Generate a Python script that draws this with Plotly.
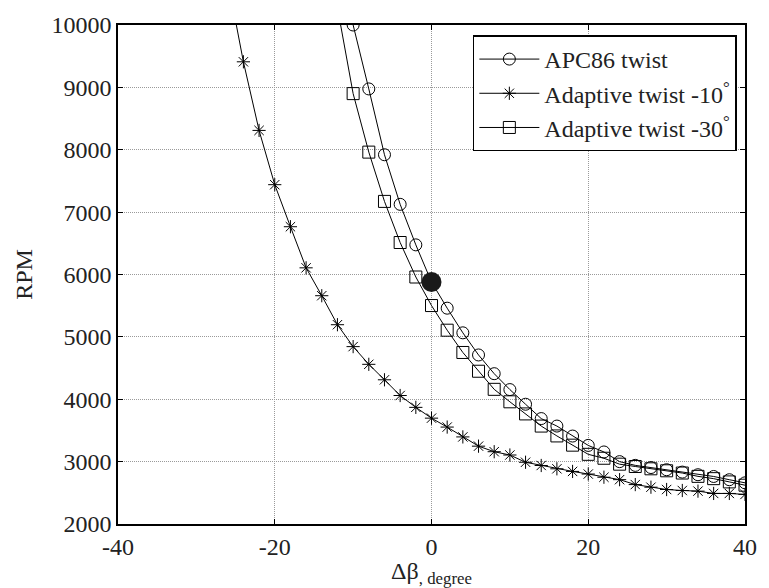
import plotly.graph_objects as go

# Δβ (degree) sample positions
x_apc = [-12, -10, -8, -6, -4, -2, 0, 2, 4, 6, 8, 10, 12, 14, 16, 18, 20, 22, 24, 26, 28, 30, 32, 34, 36, 38, 40]
rpm_apc = [11300, 10000, 8975, 7920, 7125, 6475, 5880, 5460, 5065, 4710, 4410, 4155, 3920, 3690, 3570, 3410, 3260, 3155, 3000, 2940, 2905, 2870, 2832, 2790, 2762, 2710, 2660]

x_a10 = [-26, -24, -22, -20, -18, -16, -14, -12, -10, -8, -6, -4, -2, 0, 2, 4, 6, 8, 10, 12, 14, 16, 18, 20, 22, 24, 26, 28, 30, 32, 34, 36, 38, 40]
rpm_a10 = [10720, 9410, 8310, 7440, 6766, 6107, 5660, 5195, 4844, 4560, 4312, 4060, 3870, 3697, 3554, 3396, 3248, 3159, 3106, 2990, 2938, 2885, 2843, 2801, 2750, 2711, 2632, 2590, 2553, 2537, 2527, 2490, 2490, 2474]

x_a30 = [-12, -10, -8, -6, -4, -2, 0, 2, 4, 6, 8, 10, 12, 14, 16, 18, 20, 22, 24, 26, 28, 30, 32, 34, 36, 38, 40]
rpm_a30 = [10280, 8900, 7962, 7172, 6513, 5960, 5502, 5107, 4750, 4449, 4159, 3959, 3765, 3570, 3412, 3264, 3117, 3054, 2959, 2922, 2885, 2853, 2817, 2764, 2727, 2675, 2622]

x_point = [0]
rpm_point = [5880]

names = ["APC86 twist", "Adaptive twist -10<sup>°</sup>", "Adaptive twist -30<sup>°</sup>"]

x_ticks = [-40, -20, 0, 20, 40]
x_ticktext = ["-40", "-20", "0", "20", "40"]
y_ticks = [2000, 3000, 4000, 5000, 6000, 7000, 8000, 9000, 10000]
y_ticktext = ["2000", "3000", "4000", "5000", "6000", "7000", "8000", "9000", "10000"]

FONT = "Times New Roman, Liberation Serif, serif"
TXT = "#222"

fig = go.Figure()
fig.add_trace(go.Scatter(x=x_apc, y=rpm_apc, mode="lines+markers", name=names[0],
                         line=dict(color="black", width=1),
                         marker=dict(symbol="circle-open", size=12, color="black", line=dict(width=1))))
fig.add_trace(go.Scatter(x=x_a10, y=rpm_a10, mode="lines+markers", name=names[1],
                         line=dict(color="black", width=1),
                         marker=dict(symbol="asterisk-open", size=11, color="black", line=dict(width=1))))
fig.add_trace(go.Scatter(x=x_a30, y=rpm_a30, mode="lines+markers", name=names[2],
                         line=dict(color="black", width=1),
                         marker=dict(symbol="square-open", size=12, color="black", line=dict(width=1))))
fig.add_trace(go.Scatter(x=x_point, y=rpm_point, mode="markers", showlegend=False,
                         marker=dict(symbol="circle", size=20, color="#1a1a1a")))

axis_common = dict(
    showline=True, linecolor="black", linewidth=1.5, mirror="ticks",
    ticks="inside", ticklen=5, tickcolor="black", tickwidth=1,
    showgrid=True, gridcolor="#9a9a9a", griddash="1px,1px", gridwidth=1,
    zeroline=False,
    tickfont=dict(family=FONT, size=24, color=TXT),
)

fig.update_xaxes(range=[-40, 40], tickmode="array", tickvals=x_ticks, ticktext=x_ticktext,
                 title=dict(text="Δβ<sub>, degree</sub>", font=dict(family=FONT, size=24, color=TXT), standoff=0),
                 **axis_common)
fig.update_yaxes(range=[2000, 10000], tickmode="array", tickvals=y_ticks, ticktext=y_ticktext,
                 title=dict(text="RPM", font=dict(family=FONT, size=24, color=TXT), standoff=12),
                 **axis_common)

fig.update_layout(
    width=769, height=588,
    margin=dict(l=118, r=14, t=20, b=61),
    plot_bgcolor="white", paper_bgcolor="white",
    font=dict(family=FONT, color=TXT),
    legend=dict(x=0.987, y=0.979, xanchor="right", yanchor="top",
                bgcolor="white", bordercolor="black", borderwidth=1.5,
                font=dict(family=FONT, size=24, color=TXT),
                itemwidth=60, tracegroupgap=0),
)

fig.write_html("out.html")
